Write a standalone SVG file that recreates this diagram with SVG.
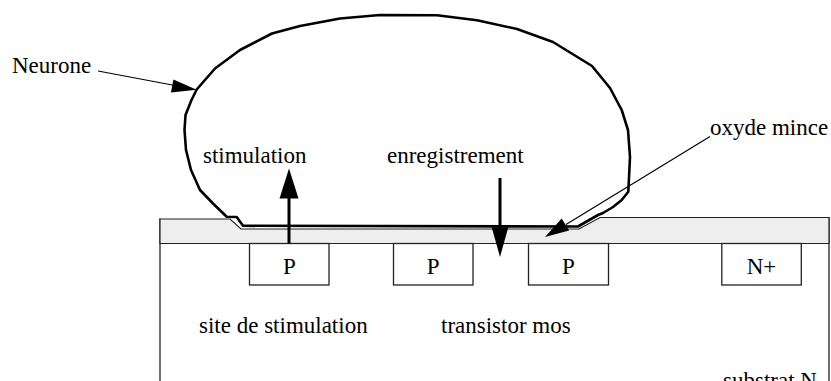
<svg xmlns="http://www.w3.org/2000/svg" width="831" height="381" viewBox="0 0 831 381">
  <defs>
    <style>
      .box { fill: #fff; stroke: #222; stroke-width: 1.3; }
      .edge { fill: none; stroke: #222; stroke-width: 1.3; }
      .thin { fill: none; stroke: #000; stroke-width: 1.2; }
      .thick { fill: none; stroke: #000; stroke-width: 3; }
    </style>
  </defs>
  <rect width="831" height="381" fill="#fff"/>

  <g font-family="'Liberation Serif', 'Times New Roman', serif" font-size="23" fill="#000">
    <!-- substrate walls -->
    <g id="substrat">
      <path class="edge" d="M160,218.5 V381 M829,217.5 V381"/>
      <text x="723" y="388">substrat N</text>
    </g>

    <!-- thin oxide layer with recess under the cell -->
    <g id="oxyde">
      <path d="M160,219 H230 L241,229 H579 L600,217.5 H829 V243.5 H160 Z" fill="#eeeeee" stroke="#222" stroke-width="1.2"/>
    </g>

    <!-- diffusions -->
    <g id="p1">
      <rect class="box" x="249.5" y="243.5" width="79.5" height="41.5"/>
      <text x="289.3" y="274" text-anchor="middle">P</text>
    </g>
    <g id="p2">
      <rect class="box" x="393.5" y="243.5" width="79.5" height="41.5"/>
      <text x="433.2" y="274" text-anchor="middle">P</text>
    </g>
    <g id="p3">
      <rect class="box" x="528.5" y="243.5" width="80" height="41.5"/>
      <text x="568.5" y="274" text-anchor="middle">P</text>
    </g>
    <g id="nplus">
      <rect class="box" x="721.8" y="243.5" width="79.5" height="41.5"/>
      <text x="761.5" y="274" text-anchor="middle">N+</text>
    </g>

    <!-- cell membrane -->
    <g id="neurone">
      <path d="M243,225.8 L236.7,217 L226.7,216.7 L213,203.5 L200,190 L191,170 L186,150 L184.5,130 L185.5,115 L191.5,100 L196.7,89.5 L215,68.5 L240,50 L272,33.5 L300,26 L340,18.5 L380,15 L437,15.3 L477,20.3 L517,29 L553,42 L592,66 L610,88 L621.7,110 L628,130 L630,157 L628.3,191.7 L621.7,200 L613,207 L603,213 L598,215 L578,226.5 Z" fill="none" stroke="#000" stroke-width="2.6" stroke-linejoin="round"/>
      <text x="12" y="73">Neurone</text>
    </g>

    <g id="stimulation">
      <text x="203" y="163">stimulation</text>
    </g>
    <g id="enregistrement">
      <text x="387" y="163">enregistrement</text>
    </g>
    <g id="oxyde-mince">
      <text x="710" y="135">oxyde mince</text>
    </g>
    <g id="site">
      <text x="199" y="333">site de stimulation</text>
    </g>
    <g id="transistor">
      <text x="441" y="333">transistor mos</text>
    </g>
  </g>

  <!-- connectors -->
  <g id="connectors">
    <!-- Neurone pointer -->
    <line class="thin" x1="98" y1="71" x2="175" y2="85.5"/>
    <polygon points="196.7,89.7 171,92.6 173.4,79.6" fill="#000"/>
    <!-- stimulation arrow -->
    <line class="thick" x1="289" y1="243.5" x2="289" y2="195"/>
    <polygon points="289,168.5 279.5,198.5 298.5,198.5" fill="#000"/>
    <!-- enregistrement arrow -->
    <line class="thick" x1="500" y1="178" x2="500" y2="230"/>
    <polygon points="500,257 491.7,227.3 508.3,227.3" fill="#000"/>
    <!-- oxyde mince pointer -->
    <line class="thin" x1="710" y1="136.5" x2="566" y2="224.5"/>
    <polygon points="545,237 561.7,218.4 569.1,230.4" fill="#000"/>
  </g>
</svg>
